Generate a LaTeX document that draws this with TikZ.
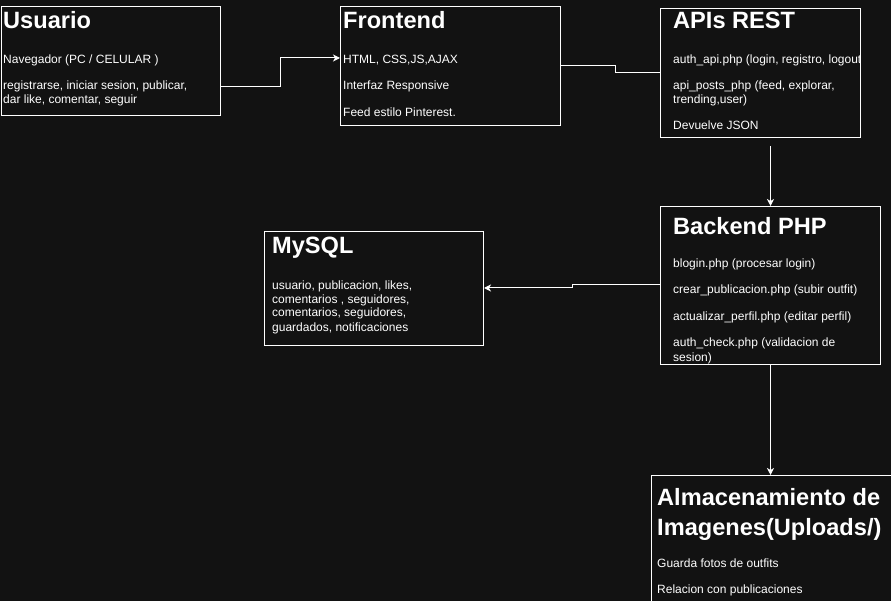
\documentclass[tikz,border=0pt]{standalone}
\usepackage{fontspec}
\setmainfont{Liberation Sans}
\usepackage{tikz}
\usetikzlibrary{positioning}
\usetikzlibrary{arrows.meta}
\definecolor{fondo}{HTML}{121212}

\tikzset{
	caja/.style={draw=white, line width=1pt, fill=fondo, anchor=north west, inner sep=0pt},
	titulo/.style={text=white, anchor=base west, inner sep=0pt, font=\bfseries\fontsize{23.6}{29}\selectfont},
	texto/.style={text=white, anchor=base west, inner sep=0pt, font=\fontsize{12}{14}\selectfont},
	linea/.style={draw=white, line width=1pt},
	flecha/.style={linea, -{Stealth[length=7pt, width=7pt, inset=2pt]}}
}

\begin{document}
\begin{tikzpicture}[x=1pt, y=-1pt]
\useasboundingbox (0,0) rectangle (891,601);
\fill[fondo] (0,0) rectangle (891,601);

\node[caja, minimum width=219, minimum height=109] (usuario) at (1,6) {};
\node[titulo] (usuario-t) at (3,29) {Usuario};
\node[texto] (usuario-1) at (3,64) {Navegador (PC / CELULAR )};
\node[texto] (usuario-2) at (3,90) {registrarse, iniciar sesion, publicar,};
\node[texto] (usuario-3) at (3,104) {dar like, comentar, seguir};

\node[caja, minimum width=220, minimum height=119] (frontend) at (340,6) {};
\node[titulo] (frontend-t) at (343,29) {Frontend};
\node[texto] (frontend-1) at (343,64) {HTML, CSS,JS,AJAX};
\node[texto] (frontend-2) at (343,90) {Interfaz Responsive};
\node[texto] (frontend-3) at (343,117) {Feed estilo Pinterest.};

\node[caja, minimum width=200, minimum height=129] (apis) at (660,8) {};
\node[titulo] (apis-t) at (673,29) {APIs REST};
\node[texto] (apis-1) at (673,64) {auth\_api.php (login, registro, logout};
\node[texto] (apis-2) at (673,90) {api\_posts\_php (feed, explorar,};
\node[texto] (apis-3) at (673,104) {trending,user)};
\node[texto] (apis-4) at (673,130) {Devuelve JSON};

\node[caja, minimum width=220, minimum height=158] (backend) at (660,206) {};
\node[titulo] (backend-t) at (673,235) {Backend PHP};
\node[texto] (backend-1) at (673,268) {blogin.php (procesar login)};
\node[texto] (backend-2) at (673,294) {crear\_publicacion.php (subir outfit)};
\node[texto] (backend-3) at (673,321) {actualizar\_perfil.php (editar perfil)};
\node[texto] (backend-4) at (673,347) {auth\_check.php (validacion de};
\node[texto] (backend-5) at (673,361) {sesion)};

\node[caja, minimum width=219, minimum height=114] (mysql) at (264,231) {};
\node[titulo] (mysql-t) at (272,254) {MySQL};
\node[texto] (mysql-1) at (272,290) {usuario, publicacion, likes,};
\node[texto] (mysql-2) at (272,304) {comentarios , seguidores,};
\node[texto] (mysql-3) at (272,317) {comentarios, seguidores,};
\node[texto] (mysql-4) at (272,331) {guardados, notificaciones};

\node[caja, minimum width=250, minimum height=140] (almacen) at (651,475) {};
\node[titulo] (almacen-t) at (657,505) {Almacenamiento de};
\node[titulo] (almacen-u) at (657,535) {Imagenes(Uploads/)};
\node[texto] (almacen-1) at (657,567) {Guarda fotos de outfits};
\node[texto] (almacen-2) at (657,593) {Relacion con publicaciones};

\draw[flecha] (usuario.east |- 0,87) -| (280,58) -- (frontend.west |- 0,58);
\draw[linea] (frontend.east |- 0,66) -| (615,73) -- (apis.west |- 0,73);
\draw[flecha] ([yshift=-8]apis.south -| backend.north) -- (backend.north);
\draw[flecha] (backend.west |- 0,285) -| (572,288) -- (mysql.east |- 0,288);
\draw[flecha] (backend.south) -- (almacen.north -| backend.south);
\end{tikzpicture}
\end{document}
